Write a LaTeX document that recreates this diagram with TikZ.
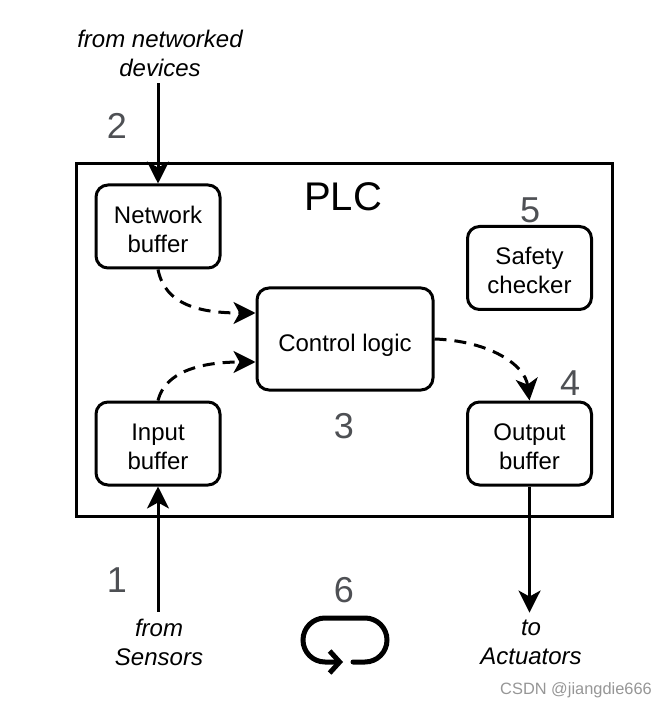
\documentclass[tikz,border=0pt]{standalone}
\usepackage{fontspec}
\setmainfont{Liberation Sans}
\usepackage{xcolor}
\usepackage{tikz}
\usetikzlibrary{shapes,arrows,positioning,calc,arrows.meta}

\definecolor{numgray}{RGB}{78,80,84}
\definecolor{markgray}{RGB}{150,150,150}

\tikzset{
  block/.style={draw, line width=1.5pt, rounded corners=6pt, align=center,
    minimum width=62pt, minimum height=41.5pt, text height=26pt, text depth=0pt,
    font=\fontsize{12}{14.5}\selectfont},
  label/.style={align=center, font=\fontsize{12}{14.5}\selectfont\itshape},
  num/.style={text=numgray, font=\fontsize{18}{20}\selectfont},
  arr/.style={line width=1.5pt, -{Stealth[length=11pt,width=11pt,inset=3pt]}},
  dasharr/.style={arr, dash pattern=on 6pt off 4pt}
}

\begin{document}
\begin{tikzpicture}[x=0.5pt,y=-0.5pt]
        \useasboundingbox (0,0) rectangle (667,710);

        % PLC frame
        \draw[line width=1.5pt] (76,164) rectangle (612,516);
        \node[font=\fontsize{20}{22}\selectfont] (plc) at (343,197) {PLC};

        % Buffers and logic
        \node[block] (nb) at (158,226.5) {Network\\buffer};
        \node[block] (ib) at (158,443.5) {Input\\buffer};
        \node[block, minimum width=88pt, minimum height=51pt, text height=12pt]
          (cl) at (345,339) {Control logic};
        \node[block] (sc) at (529.5,268) {Safety\\checker};
        \node[block] (ob) at (529.5,443.5) {Output\\buffer};

        % Outside labels
        \node[label] (lblnet) at (160,53) {from networked\\devices};
        \node[label] (lblsen) at (159,642) {from\\Sensors};
        \node[label] (lblact) at (531,642) {to\\Actuators};

        % Step numbers
        \node[num] (n1) at (117,580) {1};
        \node[num] (n2) at (117,126) {2};
        \node[num] (n3) at (344,426) {3};
        \node[num] (n4) at (570,383) {4};
        \node[num] (n5) at (530,210) {5};
        \node[num] (n6) at (344,590) {6};

        % Data flow in and out
        \draw[arr] (nb.north |- lblnet.south) -- (nb.north);
        \draw[arr] (ib.south |- lblsen.north) -- (ib.south);
        \draw[arr] (ob.south) -- (ob.south |- lblact.north);

        % Flow through the control logic
        \draw[dasharr] (nb.south) .. controls (165,305) and (200,313) .. (cl.west |- 0,313);
        \draw[dasharr] (ib.north) .. controls (165,372) and (200,362) .. (cl.west |- 0,362);
        \draw[dasharr] (cl.east) .. controls (490,341) and (525,365) .. (ob.north);

        % Scan cycle loop
        \draw[line width=2.5pt, line cap=round, -{Straight Barb[length=5pt,width=11pt]}]
          (353,662) -- (365,662) arc[start angle=90, end angle=-90, radius=22]
          -- (325,618) arc[start angle=-90, end angle=-270, radius=22] -- (343,662);

        % Watermark
        \node[text=markgray, font=\fontsize{8.2}{10}\selectfont] (mark) at (576,690) {CSDN @jiangdie666};
    \end{tikzpicture}
\end{document}
